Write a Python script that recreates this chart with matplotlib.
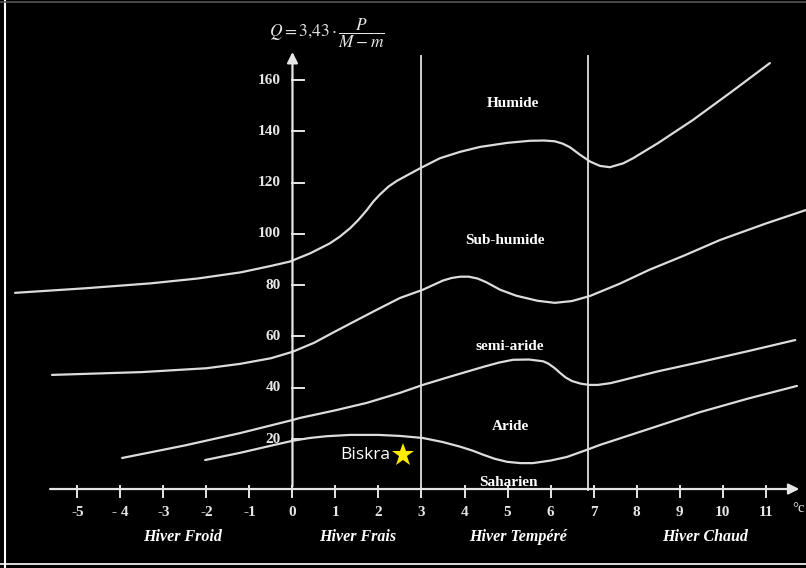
import matplotlib.pyplot as plt
from matplotlib.lines import Line2D

# boundaries between bioclimatic zones (m in degC, Q2)
humide_x = [-6.45, -4.8, -3.3, -2.2, -1.2, -0.5, -0.06, 0.41, 0.87, 1.1, 1.34, 1.53, 1.73, 1.88, 2.03, 2.23, 2.42,
            2.97, 3.43, 3.9, 4.36, 5.0, 5.52, 5.85, 6.1, 6.28, 6.45, 6.69, 6.92, 7.15, 7.38, 7.69, 7.92, 8.5, 9.31,
            10.2, 11.1]
humide_y = [77.0, 78.8, 80.7, 82.6, 85.0, 87.5, 89.2, 92.4, 96.3, 98.9, 102.2, 105.4, 109.3, 112.6, 115.3, 118.4,
            120.6, 125.6, 129.5, 132.0, 133.9, 135.5, 136.3, 136.4, 136.1, 135.2, 133.8, 130.8, 128.2, 126.5, 126.0,
            127.5, 129.5, 135.4, 144.4, 155.3, 166.6]

subhum_x = [-5.59, -3.5, -2.0, -1.22, -0.5, 0.0, 0.5, 1.0, 1.57, 2.03, 2.5, 3.03, 3.5, 3.7, 3.9, 4.1, 4.3, 4.5,
            4.83, 5.2, 5.7, 6.1, 6.5, 6.92, 7.6, 8.3, 9.1, 9.94, 11.0, 11.94]
subhum_y = [45.0, 46.1, 47.6, 49.3, 51.5, 54.0, 57.5, 62.0, 67.0, 71.0, 75.0, 78.2, 81.8, 82.8, 83.3, 83.3, 82.6,
            81.2, 78.2, 75.9, 73.9, 73.1, 73.8, 75.8, 80.5, 86.0, 91.5, 97.6, 104.0, 109.3]

semiar_x = [-3.96, -2.5, -1.22, 0.0, 0.17, 1.0, 1.73, 2.5, 3.03, 3.7, 4.43, 4.8, 5.13, 5.5, 5.83, 5.95, 6.1, 6.22,
            6.35, 6.5, 6.7, 6.9, 7.1, 7.4, 8.5, 9.48, 10.6, 11.69]
semiar_y = [12.6, 17.5, 22.3, 27.4, 28.2, 31.2, 34.1, 38.0, 41.1, 44.5, 48.1, 49.8, 50.9, 51.0, 50.3, 49.4, 47.6,
            45.8, 44.0, 42.6, 41.6, 41.1, 41.1, 41.8, 46.4, 50.0, 54.3, 58.6]

aride_x = [-2.03, -1.22, -0.5, 0.0, 0.4, 0.8, 1.34, 2.0, 2.5, 3.03, 3.5, 3.9, 4.2, 4.43, 4.7, 4.99, 5.3, 5.59, 6.0,
           6.38, 6.8, 7.15, 8.3, 9.48, 10.6, 11.73]
aride_y = [11.8, 14.6, 17.4, 19.3, 20.4, 21.1, 21.6, 21.6, 21.2, 20.4, 18.8, 17.0, 15.4, 13.9, 12.3, 11.1, 10.6,
           10.6, 11.6, 13.0, 15.5, 17.7, 24.0, 30.5, 35.8, 40.7]

x_ticks = [-5, -4, -3, -2, -1, 0, 1, 2, 3, 4, 5, 6, 7, 8, 9, 10, 11]
x_tick_labels = ['-5', '- 4', '-3', '-2', '-1', '0', '1', '2', '3', '4', '5', '6', '7', '8', '9', '10', '11']
y_ticks = [20, 40, 60, 80, 100, 120, 140, 160]
winter_limits = [3, 6.86]

zone_names = ['Humide', 'Sub-humide', 'semi-aride', 'Aride', 'Saharien']
zone_x = [5.13, 4.94, 5.06, 5.06, 5.01]
zone_y = [151, 97.6, 56, 24.7, 3.2]

winter_names = ['Hiver Froid', 'Hiver Frais', 'Hiver Tempéré', 'Hiver Chaud']
winter_x = [-2.55, 1.52, 5.24, 9.59]

station_name = 'Biskra'
station_m = 2.57
station_q = 13.8

plt.rcParams['mathtext.fontset'] = 'stix'
serif = 'Liberation Serif'
fg = '#e6e6e6'

fig = plt.figure(figsize=(8.06, 5.68), dpi=100, facecolor='black')
ax = fig.add_axes([0, 0, 1, 1])
ax.set_facecolor('black')
ax.set_xlim(-6.80, 11.94)
ax.set_ylim(-30.3, 191.2)
ax.axis('off')

# axes with arrows
ax.annotate('', xy=(11.85, 0.5), xytext=(-5.7, 0.5),
            arrowprops=dict(arrowstyle='-|>', color=fg, lw=1.6, mutation_scale=16))
ax.annotate('', xy=(0, 172), xytext=(0, 0.5),
            arrowprops=dict(arrowstyle='-|>', color=fg, lw=1.6, mutation_scale=16))

for xt, lab in zip(x_ticks, x_tick_labels):
    ax.plot([xt, xt], [1.5, -2.8], color=fg, lw=1.4)
    ax.text(xt, -8.5, lab, color=fg, fontsize=11, fontweight='bold', family=serif,
            ha='center', va='center')
ax.text(11.62, -7.2, '°c', color=fg, fontsize=10.5, family=serif, ha='left', va='center')

for yt in y_ticks:
    ax.plot([0, 0.27], [yt, yt], color=fg, lw=1.4)
    ax.text(-0.27, yt, str(yt), color=fg, fontsize=11, fontweight='bold', family=serif,
            ha='right', va='center')

for xv in winter_limits:
    ax.plot([xv, xv], [0, 169.5], color='#cfcfcf', lw=1.4)

for xs, ys in [(humide_x, humide_y), (subhum_x, subhum_y), (semiar_x, semiar_y), (aride_x, aride_y)]:
    ax.plot(xs, ys, color='#dcdcdc', lw=1.6, solid_capstyle='round', solid_joinstyle='round')

for name, zx, zy in zip(zone_names, zone_x, zone_y):
    ax.text(zx, zy, name, color='white', fontsize=11, fontweight='bold', family=serif,
            ha='center', va='center')

for name, wx in zip(winter_names, winter_x):
    ax.text(wx, -18.2, name, color='white', fontsize=11.5, fontweight='bold', style='italic',
            family=serif, ha='center', va='center')

ax.text(-0.55, 178.3, r'$Q = 3{,}43\cdot\dfrac{P}{M-m}$', color=fg, fontsize=12.5,
        ha='left', va='center')

ax.text(station_m - 0.3, station_q, station_name, color='white', fontsize=12.5,
        family='Open Sans', ha='right', va='center')
ax.plot(station_m, station_q, marker='*', color='#ffea00', markersize=17, markeredgewidth=0)

# frame lines of the scanned figure
fig.add_artist(Line2D([5 / 806, 5 / 806], [0, 1], color='white', lw=1.5, transform=fig.transFigure))
fig.add_artist(Line2D([0, 1], [4 / 568, 4 / 568], color='white', lw=1.2, transform=fig.transFigure))
fig.add_artist(Line2D([0, 1], [1 - 2 / 568, 1 - 2 / 568], color='#555555', lw=1.2, transform=fig.transFigure))

fig.savefig('out.png', dpi=100, facecolor='black')
